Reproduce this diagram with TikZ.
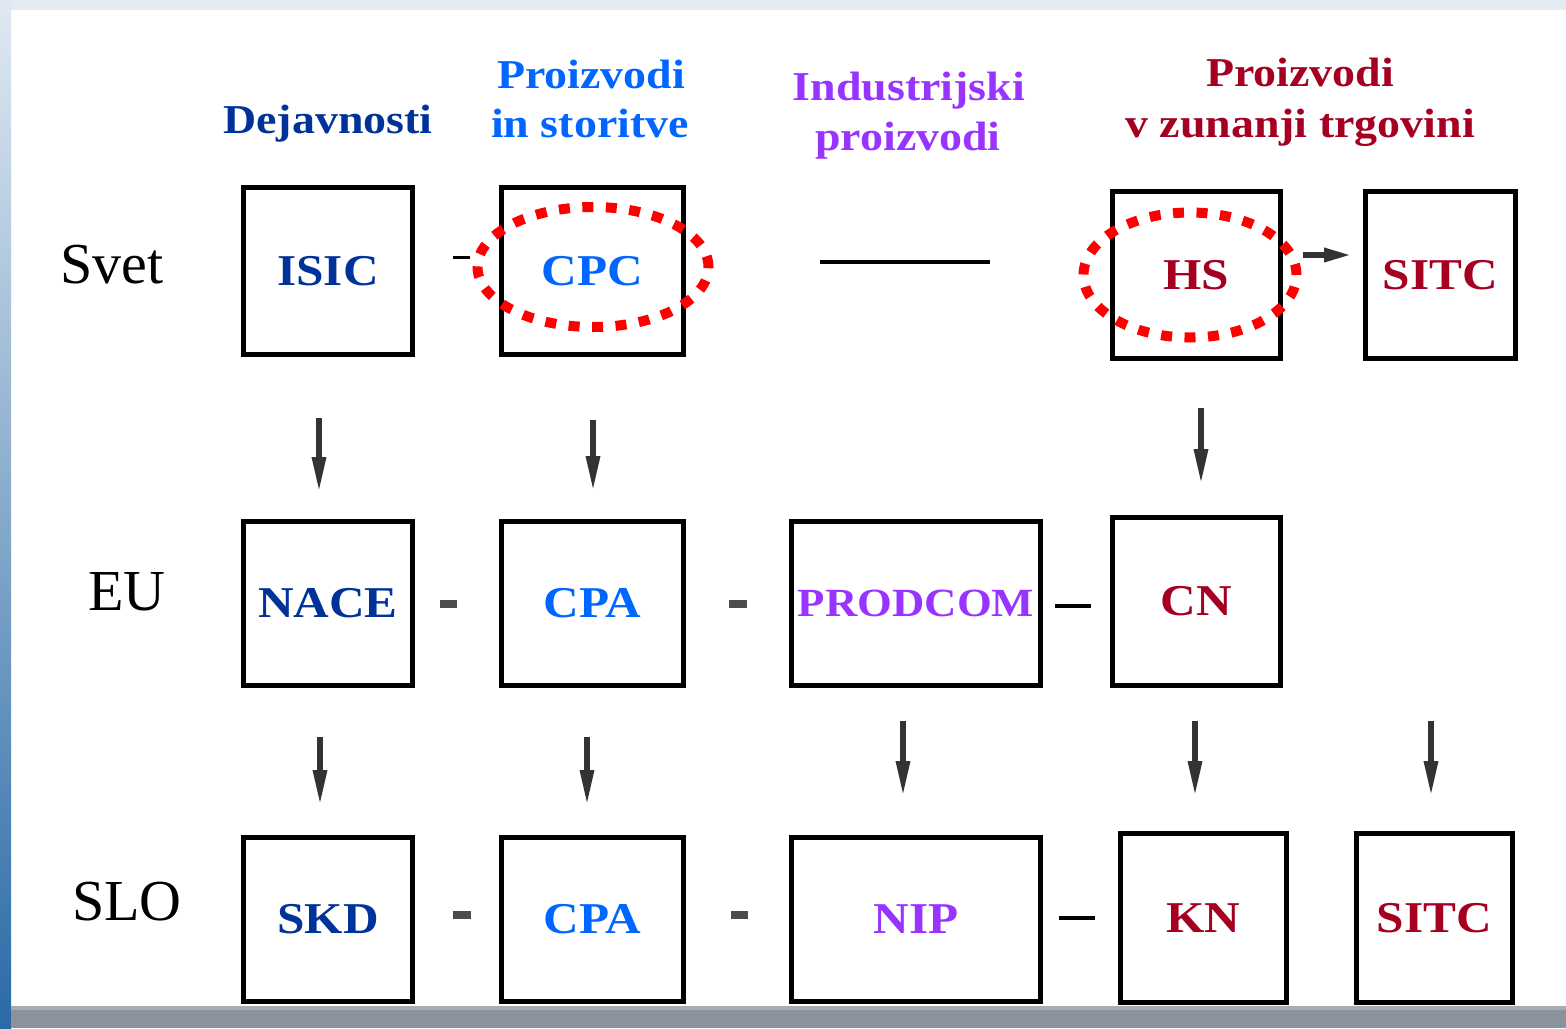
\documentclass[tikz,border=0pt]{standalone}
\usepackage{fontspec}
\setmainfont{Liberation Serif}
\newfontfamily\wfont[FakeStretch=1.12]{Liberation Serif}
\usetikzlibrary{arrows.meta,calc}
\definecolor{dblue}{HTML}{003399}
\definecolor{lblue}{HTML}{0066FF}
\definecolor{purp}{HTML}{9933FF}
\definecolor{dred}{HTML}{A50021}
\definecolor{topstrip}{HTML}{E3EBF3}
\definecolor{barlight}{HTML}{A9ACAE}
\definecolor{bardark}{HTML}{8A929C}
\definecolor{arrgray}{HTML}{333333}
\definecolor{stripA}{HTML}{E0E9F2}
\definecolor{stripB}{HTML}{86AACB}
\definecolor{stripC}{HTML}{2A6AA8}
\begin{document}
\begin{tikzpicture}[x=1pt,y=-1pt,
  box/.style={draw=black,line width=5pt,inner sep=0pt,outer sep=0pt,fill=white},
  lab/.style={font=\wfont\bfseries\fontsize{44}{44}\selectfont},
  hdr/.style={font=\wfont\bfseries\fontsize{41}{41}\selectfont,anchor=base},
  rowlab/.style={font=\fontsize{58}{58}\selectfont,anchor=base,text=black},
  arr/.style={draw=arrgray,line width=6pt,-{Triangle[length=36pt,width=13pt]}},
  harr/.style={draw=arrgray,line width=6pt,-{Triangle[length=28pt,width=13pt]}},
  sdash/.style={draw=black,line width=4pt},
  gdash/.style={draw=black!70,line width=8pt},
  ring/.style={draw=red,line width=10pt,dash pattern=on 11pt off 12.5pt}
]
% background
\useasboundingbox (0,0) rectangle (1566,1028);
\fill[white] (0,0) rectangle (1566,1028);
\fill[topstrip] (0,0) rectangle (1566,10);
\shade[top color=stripA,bottom color=stripC,middle color=stripB] (0,0) rectangle (11,1028);

% headers
\node[hdr,text=dblue] (hd1) at (328,133) {Dejavnosti};
\node[hdr,text=lblue] (hd2a) at (591,88) {Proizvodi};
\node[hdr,text=lblue] (hd2b) at (590,137) {in storitve};
\node[hdr,text=purp] (hd3a) at (909,100) {Industrijski};
\node[hdr,text=purp] (hd3b) at (908,150) {proizvodi};
\node[hdr,text=dred] (hd4a) at (1300,86) {Proizvodi};
\node[hdr,text=dred] (hd4b) at (1300,137) {v zunanji trgovini};

% row labels
\node[rowlab] (svet) at (112,283) {Svet};
\node[rowlab] (eu) at (127,610) {EU};
\node[rowlab] (slo) at (127,920) {SLO};

% row 1
\node[box,lab,text=dblue,minimum width=169pt,minimum height=167pt] (isic) at (328,271) {ISIC};
\node[box,lab,text=lblue,minimum width=182pt,minimum height=167pt] (cpc) at (592.5,271) {CPC};
\node[box,lab,text=dred,minimum width=168pt,minimum height=167pt] (hs) at (1196.5,275) {HS};
\node[box,lab,text=dred,minimum width=150pt,minimum height=167pt] (sitc1) at (1440.5,275) {SITC};

% row 2
\node[box,lab,text=dblue,minimum width=169pt,minimum height=164pt] (nace) at (328,603.5) {NACE};
\node[box,lab,text=lblue,minimum width=182pt,minimum height=164pt] (cpa1) at (592.5,603.5) {CPA};
\node[box,text=purp,font=\wfont\bfseries\fontsize{40}{40}\selectfont,minimum width=249pt,minimum height=164pt] (prodcom) at (916,603.5) {PRODCOM};
\node[box,lab,text=dred,minimum width=168pt,minimum height=168pt] (cn) at (1196.5,601.5) {CN};

% row 3
\node[box,lab,text=dblue,minimum width=169pt,minimum height=164pt] (skd) at (328,919.5) {SKD};
\node[box,lab,text=lblue,minimum width=182pt,minimum height=164pt] (cpa2) at (592.5,919.5) {CPA};
\node[box,lab,text=purp,minimum width=249pt,minimum height=164pt] (nip) at (916,919.5) {NIP};
\node[box,lab,text=dred,minimum width=166pt,minimum height=169pt] (kn) at (1203.5,918) {KN};
\node[box,lab,text=dred,minimum width=156pt,minimum height=169pt] (sitc2) at (1434.5,918) {SITC};

% short links between boxes
\draw[sdash,line width=3pt] ($(isic.east)+(40.5,-14)$) -- ($(cpc.west)+(-31.5,-14)$);
\draw[sdash] ($(cpc.east)+(136.5,-9)$) -- ($(hs.west)+(-122.5,-13)$);
\draw[gdash] ($(nace.east)+(27.5,0)$) -- ($(cpa1.west)+(-44.5,0)$);
\draw[gdash] ($(cpa1.east)+(45.5,0)$) -- ($(prodcom.west)+(-44.5,0)$);
\draw[sdash] ($(prodcom.east)+(14.5,2.5)$) -- ($(cn.west)+(-21.5,4.5)$);
\draw[gdash] ($(skd.east)+(40.5,-4.5)$) -- ($(cpa2.west)+(-30.5,-4.5)$);
\draw[gdash] ($(cpa2.east)+(47.5,-4.5)$) -- ($(nip.west)+(-43.5,-4.5)$);
\draw[sdash] ($(nip.east)+(18.5,-1.5)$) -- ($(kn.west)+(-25.5,0)$);

% arrows
\draw[arr] ($(isic.south)+(-9,63.5)$) -- ($(nace.north)+(-9,-28.5)$);
\draw[arr] ($(cpc.south)+(0.5,65.5)$) -- ($(cpa1.north)+(0.5,-29.5)$);
\draw[arr] ($(hs.south)+(4.5,49.5)$) -- ($(cn.north)+(4.5,-32.5)$);
\draw[arr] ($(nace.south)+(-8,51.5)$) -- ($(skd.north)+(-8,-31.5)$);
\draw[arr] ($(cpa1.south)+(-5.5,51.5)$) -- ($(cpa2.north)+(-5.5,-31.5)$);
\draw[arr] ($(prodcom.south)+(-13,35.5)$) -- ($(nip.north)+(-13,-40.5)$);
\draw[arr] ($(cn.south)+(-1.5,35.5)$) -- ($(kn.north)+(-8.5,-36.5)$);
\coordinate (sitcsrc) at (1431,721);
\draw[arr] (sitcsrc) -- ($(sitc2.north)+(-3.5,-36.5)$);
\draw[harr] ($(hs.east)+(22.5,-20)$) -- ($(sitc1.west)+(-13.5,-20)$);

% red dotted rings
\draw[ring] ($(cpc.center)+(0.5,-4)$) ellipse [x radius=115.5pt, y radius=60pt];
\draw[ring] ($(hs.center)+(-6.5,0)$) ellipse [x radius=106.5pt, y radius=62.5pt];

% bottom bar
\fill[barlight] (11,1006) rectangle (1566,1010);
\fill[bardark] (11,1010) rectangle (1566,1028);
\end{tikzpicture}
\end{document}
